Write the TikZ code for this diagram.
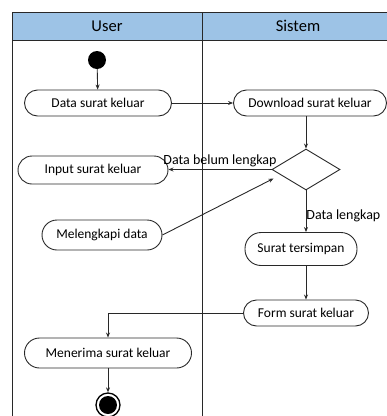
\documentclass[tikz,border=0pt]{standalone}
\usepackage{fontspec}
\setmainfont{Carlito}
\usetikzlibrary{shapes.geometric,arrows.meta,calc}
\definecolor{hdr}{RGB}{157,195,230}
\definecolor{ln}{RGB}{40,40,40}
\begin{document}
\begin{tikzpicture}[x=1pt,y=-1pt,
  act/.style={draw=ln,rounded corners=13pt,minimum height=26pt,inner sep=0pt,font=\fontsize{13.5}{14}\selectfont,line width=0.9pt},
  flow/.style={draw=ln,-{Stealth[length=5pt,width=4pt]},line width=0.9pt},
  lbl/.style={font=\fontsize{14}{15}\selectfont,inner sep=1pt},
  hlbl/.style={font=\fontsize{16.5}{17}\selectfont,inner sep=1pt}]
\useasboundingbox (0,0) rectangle (387,416);
% swimlanes
\fill[hdr] (12,12) rectangle (387,40);
\draw[ln,line width=0.9pt] (12,12) -- (387,12);
\draw[ln,line width=0.9pt] (12,40) -- (387,40);
\draw[ln,line width=0.9pt] (12,12) -- (12,416);
\draw[ln,line width=0.9pt] (202,12) -- (202,416);
\node[hlbl] (hu) at (107,26) {User};
\node[hlbl] (hs) at (298,26) {Sistem};
% nodes
\node[circle,fill=black,minimum size=18pt,inner sep=0pt] (start) at (97,60) {};
\node[act,minimum width=147pt] (data) at (98,103) {Data surat keluar};
\node[act,minimum width=153pt] (down) at (310,103) {Download surat keluar};
\node[diamond,draw=ln,line width=0.9pt,minimum width=68pt,minimum height=41pt,inner sep=0pt,aspect=1.66] (dec) at (306,169.5) {};
\node[act,minimum width=150pt,minimum height=28pt,rounded corners=14pt] (input) at (93,170) {Input surat keluar};
\node[act,minimum width=120pt,minimum height=30pt,rounded corners=15pt] (leng) at (102,235) {Melengkapi data};
\node[act,minimum width=112pt,minimum height=33pt,rounded corners=16pt] (simp) at (301,249) {Surat tersimpan};
\node[act,minimum width=125pt] (form) at (306,313) {Form surat keluar};
\node[act,minimum width=167pt,minimum height=30pt,rounded corners=15pt] (terima) at (108,353) {Menerima surat keluar};
\node[circle,draw=black,line width=1.3pt,minimum size=24pt,inner sep=0pt] (end) at (108,405) {};
\node[circle,fill=black,minimum size=18pt,inner sep=0pt] (endin) at (end.center) {};
\coordinate (tip) at ($(dec.west)+(2,9)$);
% connectors
\draw[flow] (start) -- (data);
\draw[flow] (data) -- (down);
\draw[flow] (down.south -| dec.north) -- (dec.north);
\draw[flow] (dec.west) -- node[lbl,above,pos=0.5,yshift=1pt] {Data belum lengkap} (input.east |- dec.west);
\draw[flow] (leng.east) -- (tip);
\draw[flow] (dec.south) -- node[lbl,right,pos=0.6,xshift=-1pt] {Data lengkap} (dec.south |- simp.north);
\draw[flow] (simp.south -| dec.south) -- (dec.south |- form.north);
\draw[flow] (form.west) -| (terima.north);
\draw[flow] (terima) -- (end);
\end{tikzpicture}
\end{document}
